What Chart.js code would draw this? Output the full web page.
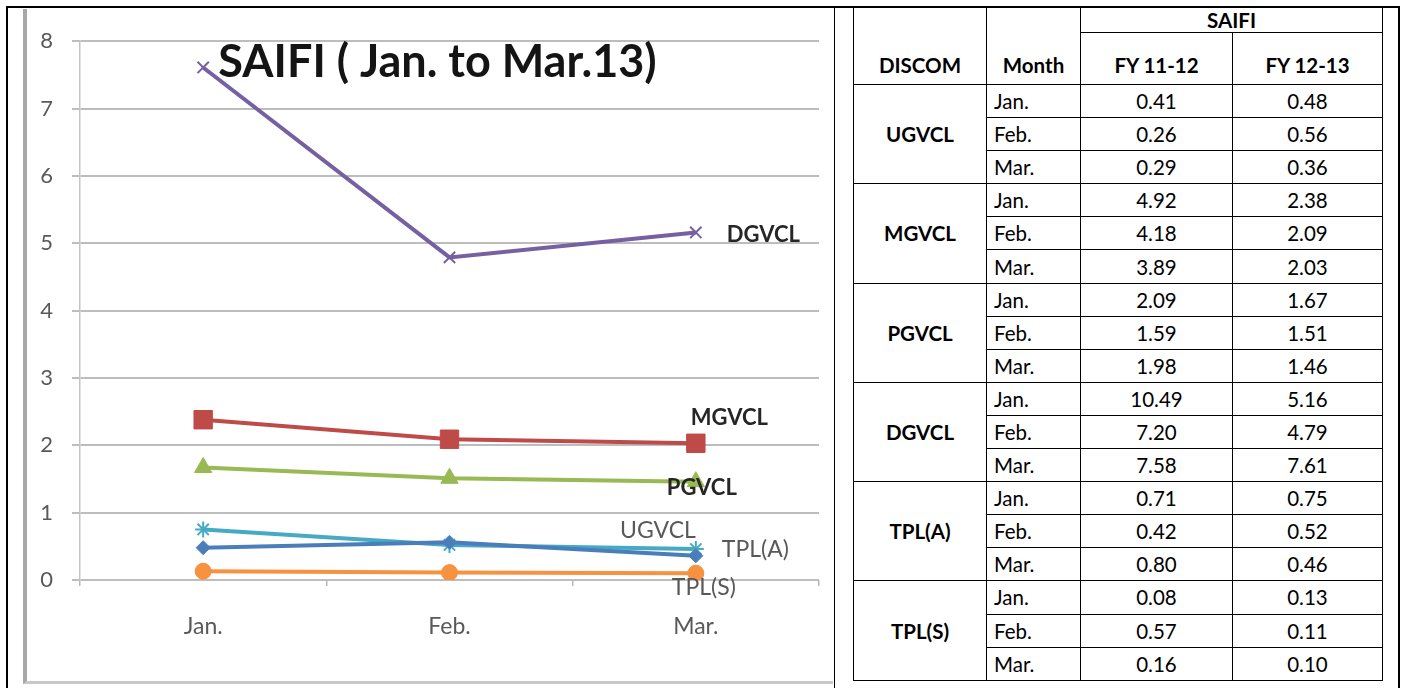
<!DOCTYPE html>
<html>
<head>
<meta charset="utf-8">
<script src="https://cdn.jsdelivr.net/npm/chart.js@4.4.0/dist/chart.umd.min.js"></script>
<style>
  body { margin: 0; background: #fff; font-family: Lato, 'Open Sans', sans-serif; }
  #page { position: relative; width: 1401px; height: 688px; overflow: hidden; }
  .outer { position: absolute; left: 6px; top: 6px; width: 1390px; height: 700px;
           border-top: 2px solid #000; border-left: 2px solid #000; border-right: 2px solid #000; }
  .divider { position: absolute; left: 834px; top: 6px; width: 1px; height: 700px; background: #000; }
  #chartBox { position: absolute; left: 23px; top: 9px; width: 810px; height: 675px;
              border-left: 4px solid #a8a8a8; border-bottom: 3px solid #c8c8c8; box-sizing: border-box; }
  #chartBox div { position: absolute; left: 0; top: 0; width: 806px; height: 672px; }
  table { position: absolute; left: 853px; top: 7px; border-collapse: collapse; font-size: 20.5px; color: #000; }
  td { border: 1px solid #000; height: 32.1px; padding: 0; text-align: center; }
  td.m { text-align: left; padding-left: 7px; }
  td.d { font-weight: bold; }
  th { border: 1px solid #000; font-weight: bold; padding: 0; }
  tr.h1 th { height: 19px; }
  tr.h2 th { height: 44px; vertical-align: bottom; padding-bottom: 7px; }
  th.span { vertical-align: bottom; padding-bottom: 7px; }
</style>
</head>
<body>
<div id="page">
  <div class="outer"></div>
  <div class="divider"></div>
  <div id="chartBox"><div><canvas id="myChart"></canvas></div></div>
  <table id="saifiTable"></table>
</div>
<script>
// Chart data (values plotted in the line chart)
const months = ['Jan.', 'Feb.', 'Mar.'];
const yTicks = [0, 1, 2, 3, 4, 5, 6, 7, 8];
const ugvcl = [0.48, 0.56, 0.36];
const mgvcl = [2.38, 2.09, 2.03];
const pgvcl = [1.67, 1.51, 1.46];
const dgvcl = [7.61, 4.79, 5.16];
const tplA = [0.75, 0.52, 0.46];
const tplS = [0.13, 0.11, 0.10];

// Table data
const discoms = ['UGVCL', 'MGVCL', 'PGVCL', 'DGVCL', 'TPL(A)', 'TPL(S)'];
const fy1112 = [
  ['0.41', '0.26', '0.29'],
  ['4.92', '4.18', '3.89'],
  ['2.09', '1.59', '1.98'],
  ['10.49', '7.20', '7.58'],
  ['0.71', '0.42', '0.80'],
  ['0.08', '0.57', '0.16']
];
const fy1213 = [
  ['0.48', '0.56', '0.36'],
  ['2.38', '2.09', '2.03'],
  ['1.67', '1.51', '1.46'],
  ['5.16', '4.79', '7.61'],
  ['0.75', '0.52', '0.46'],
  ['0.13', '0.11', '0.10']
];

// Build the table
const table = document.getElementById('saifiTable');
let html = '<colgroup><col style="width:133px"><col style="width:94px"><col style="width:152px"><col style="width:150px"></colgroup>';
html += '<tr class="h1"><th class="span" rowspan="2">DISCOM</th><th class="span" rowspan="2">Month</th><th colspan="2">SAIFI</th></tr>';
html += '<tr class="h2"><th>FY 11-12</th><th>FY 12-13</th></tr>';
discoms.forEach((name, i) => {
  months.forEach((m, j) => {
    html += '<tr>';
    if (j === 0) html += '<td class="d" rowspan="3">' + name + '</td>';
    html += '<td class="m">' + m + '</td><td>' + fy1112[i][j] + '</td><td>' + fy1213[i][j] + '</td></tr>';
  });
});
table.innerHTML = html;

// Chart title and end-of-line labels
const titleText = 'SAIFI ( Jan. to Mar.13)';
const labelStyle = {
  'UGVCL':  { align: 'right', dx: 0,   dy: -25, bold: false },
  'MGVCL':  { align: 'left',  dx: -5,  dy: -25, bold: true },
  'PGVCL':  { align: 'left',  dx: -29, dy: 6,   bold: true },
  'DGVCL':  { align: 'left',  dx: 31,  dy: 2,   bold: true },
  'TPL(A)': { align: 'left',  dx: 26,  dy: 1,   bold: false },
  'TPL(S)': { align: 'left',  dx: -24, dy: 14,  bold: false }
};

const annotate = {
  id: 'annotate',
  afterDatasetsDraw(chart) {
    const { ctx, chartArea } = chart;
    ctx.save();
    ctx.font = 'bold 45px Lato';
    ctx.fillStyle = '#141414';
    ctx.textAlign = 'center';
    ctx.textBaseline = 'middle';
    ctx.fillText(titleText, (chartArea.left + chartArea.right) / 2 - 12, chartArea.top + 21);
    chart.data.datasets.forEach((ds, i) => {
      const meta = chart.getDatasetMeta(i);
      const pt = meta.data[meta.data.length - 1];
      const s = labelStyle[ds.label];
      ctx.font = (s.bold ? 'bold 22px' : '23px') + ' Lato';
      ctx.fillStyle = s.bold ? '#262626' : '#595959';
      ctx.textAlign = s.align;
      ctx.fillText(ds.label, pt.x + s.dx, pt.y + s.dy);
    });
    ctx.restore();
  }
};

function series(label, data, color, style, radius, border) {
  return {
    label: label,
    data: data,
    borderColor: color,
    backgroundColor: color,
    borderWidth: 4,
    pointStyle: style,
    pointRadius: radius,
    pointBorderWidth: border,
    pointBorderColor: color,
    pointBackgroundColor: color,
    tension: 0
  };
}

const ctx = document.getElementById('myChart').getContext('2d');
const myChart = new Chart(ctx, {
  type: 'line',
  data: {
    labels: months,
    datasets: [
      series('UGVCL', ugvcl, '#4a7ebb', 'rectRot', 7, 1),
      series('MGVCL', mgvcl, '#be4b48', 'rect', 13, 1),
      series('PGVCL', pgvcl, '#98b954', 'triangle', 10, 1),
      series('DGVCL', dgvcl, '#7560a2', 'crossRot', 8, 2),
      series('TPL(A)', tplA, '#46aac5', 'star', 8, 2),
      series('TPL(S)', tplS, '#f69240', 'circle', 8, 1)
    ]
  },
  options: {
    responsive: true,
    maintainAspectRatio: false,
    animation: false,
    layout: { padding: { top: 28, right: 6, left: 0, bottom: 0 } },
    plugins: {
      legend: { display: false },
      tooltip: { enabled: false }
    },
    scales: {
      x: {
        offset: true,
        grid: { offset: true, drawOnChartArea: false, tickLength: 6, color: '#b8b8b8', lineWidth: 1.5 },
        border: { display: false },
        ticks: { padding: 27, color: '#595959', font: { family: 'Lato', size: 23 } },
        afterFit: s => { s.height = 101; }
      },
      y: {
        min: 0,
        max: 8,
        afterBuildTicks: s => { s.ticks = yTicks.map(v => ({ value: v })); },
        grid: { color: '#bdbdbd', lineWidth: 2, tickLength: 8 },
        border: { color: '#c4c4c4', width: 1.5 },
        ticks: { padding: 19, color: '#595959', font: { family: 'Lato', size: 22 } },
        afterFit: s => { s.width = 53; }
      }
    }
  },
  plugins: [annotate]
});
</script>
</body>
</html>
